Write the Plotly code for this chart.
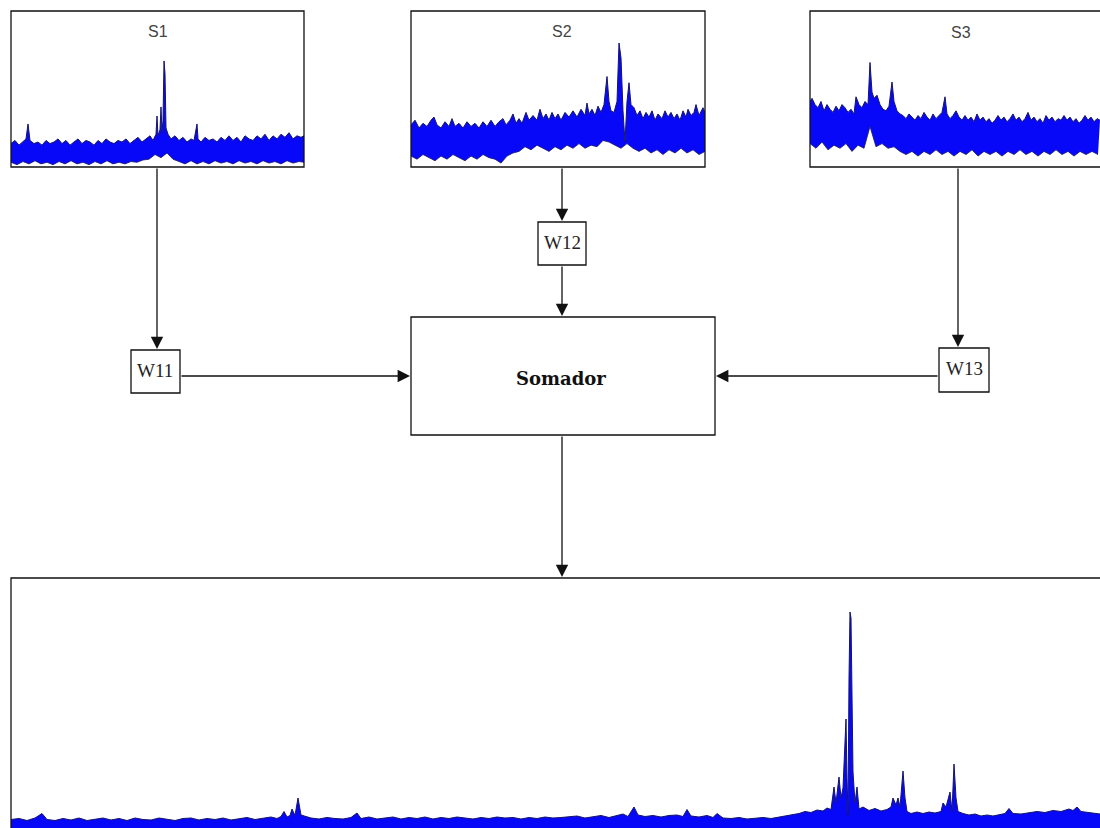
import plotly.graph_objects as go

W, H = 1100, 828

# ---------------- data ----------------
# S1: sample position, upper envelope, lower envelope
s1_x = [0, 4, 8, 12, 15, 17, 19, 23, 27, 31, 35, 39, 43, 47, 51, 55, 59, 63, 67, 71, 75, 79, 83, 87, 91, 95, 99,
        103, 107, 111, 115, 119, 123, 127, 131, 135, 139, 142, 145, 146, 147, 149, 150, 151, 152, 153, 154, 155,
        157, 160, 164, 168, 172, 176, 180, 183, 186, 187, 190, 194, 198, 202, 206, 210, 214, 218, 222, 226, 230,
        234, 238, 242, 246, 250, 254, 258, 262, 266, 270, 274, 278, 282, 286, 290, 293]
s1_upper = [0.15, 0.17, 0.14, 0.16, 0.18, 0.276, 0.17, 0.15, 0.16, 0.14, 0.17, 0.15, 0.16, 0.18, 0.15, 0.17, 0.14,
            0.16, 0.18, 0.15, 0.17, 0.16, 0.14, 0.17, 0.15, 0.18, 0.16, 0.15, 0.17, 0.16, 0.18, 0.15, 0.17, 0.19,
            0.16, 0.18, 0.2, 0.17, 0.21, 0.327, 0.2, 0.24, 0.385, 0.22, 0.3, 0.68, 0.6, 0.25, 0.21, 0.18, 0.2,
            0.17, 0.19, 0.16, 0.18, 0.17, 0.276, 0.18, 0.16, 0.19, 0.17, 0.18, 0.16, 0.19, 0.17, 0.2, 0.17, 0.19,
            0.16, 0.2, 0.18, 0.17, 0.2, 0.18, 0.21, 0.17, 0.2, 0.18, 0.21, 0.19, 0.22, 0.18, 0.2, 0.19, 0.2]
s1_lx = [0, 6, 12, 18, 24, 30, 36, 42, 48, 54, 60, 66, 72, 78, 84, 90, 96, 102, 108, 114, 120, 126, 132, 138, 144,
         150, 156, 162, 168, 174, 180, 186, 192, 198, 204, 210, 216, 222, 228, 234, 240, 246, 252, 258, 264, 270,
         276, 282, 288, 293]
s1_lower = [0.03, 0.015, 0.035, 0.02, 0.04, 0.02, 0.03, 0.015, 0.035, 0.02, 0.04, 0.02, 0.03, 0.015, 0.035, 0.02,
            0.04, 0.02, 0.03, 0.02, 0.035, 0.03, 0.045, 0.05, 0.08, 0.06, 0.09, 0.05, 0.035, 0.02, 0.04, 0.02,
            0.035, 0.02, 0.04, 0.025, 0.035, 0.02, 0.04, 0.025, 0.035, 0.02, 0.04, 0.025, 0.035, 0.02, 0.04,
            0.025, 0.035, 0.03]

# S2
s2_x = [0, 4, 8, 12, 16, 20, 23, 26, 30, 34, 38, 41, 44, 48, 52, 56, 60, 64, 68, 72, 76, 80, 84, 88, 92, 95, 99,
        102, 105, 108, 111, 115, 118, 122, 126, 129, 132, 135, 138, 141, 144, 147, 150, 154, 158, 162, 166, 170,
        174, 176, 178, 181, 184, 187, 190, 193, 196, 198, 200, 203, 206, 208, 210, 212, 214, 216, 218, 220, 223,
        226, 229, 232, 235, 238, 241, 244, 247, 251, 254, 257, 260, 263, 266, 269, 272, 275, 277, 280, 283, 285,
        288, 291, 292, 294]
s2_upper = [0.27, 0.3, 0.25, 0.28, 0.26, 0.3, 0.32, 0.27, 0.25, 0.29, 0.26, 0.31, 0.26, 0.28, 0.25, 0.29, 0.26,
            0.28, 0.25, 0.29, 0.26, 0.3, 0.26, 0.29, 0.31, 0.27, 0.3, 0.34, 0.28, 0.31, 0.28, 0.35, 0.3, 0.33,
            0.3, 0.37, 0.31, 0.34, 0.3, 0.35, 0.31, 0.34, 0.3, 0.35, 0.32, 0.36, 0.32, 0.37, 0.33, 0.41, 0.34,
            0.37, 0.33, 0.39, 0.35, 0.4, 0.58, 0.42, 0.36, 0.35, 0.42, 0.795, 0.7, 0.36, 0.16, 0.42, 0.54, 0.4,
            0.38, 0.33, 0.36, 0.31, 0.35, 0.32, 0.36, 0.3, 0.34, 0.31, 0.36, 0.32, 0.35, 0.31, 0.34, 0.3, 0.36,
            0.32, 0.37, 0.33, 0.35, 0.4, 0.33, 0.37, 0.38, 0.35]
s2_lx = [0, 6, 12, 18, 24, 30, 36, 42, 48, 54, 60, 66, 72, 78, 84, 90, 96, 102, 108, 114, 120, 126, 132, 138, 144,
         150, 156, 162, 168, 174, 180, 186, 192, 198, 204, 210, 216, 222, 228, 234, 240, 246, 252, 258, 264, 270,
         276, 282, 288, 294]
s2_lower = [0.07, 0.05, 0.08, 0.06, 0.04, 0.07, 0.05, 0.08, 0.06, 0.04, 0.07, 0.05, 0.08, 0.06, 0.05, 0.025,
            0.07, 0.09, 0.1, 0.13, 0.11, 0.14, 0.12, 0.1, 0.13, 0.11, 0.14, 0.12, 0.15, 0.12, 0.14, 0.13, 0.17,
            0.16, 0.14, 0.12, 0.15, 0.12, 0.1, 0.12, 0.09, 0.11, 0.08, 0.11, 0.09, 0.12, 0.09, 0.11, 0.08, 0.1]

# S3
s3_x = [0, 2, 5, 8, 11, 14, 17, 20, 23, 26, 29, 32, 35, 38, 41, 44, 46, 49, 52, 55, 58, 60, 62, 64, 67, 70, 73,
        76, 79, 82, 84, 87, 90, 93, 96, 99, 102, 105, 108, 111, 114, 117, 120, 123, 126, 129, 132, 135, 137, 140,
        143, 146, 149, 152, 155, 158, 161, 164, 167, 170, 173, 176, 179, 182, 185, 188, 191, 194, 197, 200, 203,
        206, 209, 212, 215, 218, 221, 224, 227, 230, 233, 236, 239, 242, 245, 248, 251, 254, 257, 260, 263, 266,
        269, 272, 275, 278, 281, 284, 287, 290]
s3_upper = [0.42, 0.44, 0.4, 0.38, 0.42, 0.36, 0.4, 0.37, 0.35, 0.39, 0.36, 0.4, 0.38, 0.35, 0.37, 0.34, 0.45,
            0.4, 0.38, 0.42, 0.4, 0.67, 0.48, 0.44, 0.46, 0.4, 0.37, 0.36, 0.39, 0.545, 0.42, 0.36, 0.34, 0.33,
            0.31, 0.34, 0.32, 0.3, 0.33, 0.31, 0.35, 0.32, 0.3, 0.34, 0.31, 0.33, 0.35, 0.45, 0.34, 0.31, 0.33,
            0.36, 0.32, 0.3, 0.33, 0.3, 0.32, 0.29, 0.34, 0.3, 0.32, 0.29, 0.31, 0.28, 0.3, 0.33, 0.3, 0.32, 0.29,
            0.31, 0.34, 0.3, 0.32, 0.29, 0.31, 0.35, 0.3, 0.32, 0.29, 0.31, 0.28, 0.33, 0.3, 0.32, 0.29, 0.31,
            0.3, 0.33, 0.3, 0.32, 0.29, 0.31, 0.28, 0.3, 0.33, 0.3, 0.32, 0.29, 0.31, 0.3]
s3_lx = [0, 6, 12, 18, 24, 30, 36, 42, 48, 54, 60, 66, 72, 78, 84, 90, 96, 102, 108, 114, 120, 126, 132, 138, 144,
         150, 156, 162, 168, 174, 180, 186, 192, 198, 204, 210, 216, 222, 228, 234, 240, 246, 252, 258, 264, 270,
         276, 282, 288]
s3_lower = [0.15, 0.12, 0.16, 0.11, 0.14, 0.12, 0.15, 0.1, 0.14, 0.12, 0.26, 0.13, 0.15, 0.12, 0.13, 0.1, 0.08,
            0.1, 0.07, 0.1, 0.08, 0.11, 0.08, 0.1, 0.07, 0.1, 0.08, 0.11, 0.07, 0.1, 0.08, 0.1, 0.07, 0.1, 0.08,
            0.11, 0.08, 0.1, 0.07, 0.1, 0.08, 0.11, 0.08, 0.1, 0.07, 0.1, 0.08, 0.1, 0.08]

# Output (sum) signal
out_x = [0, 8, 16, 24, 31, 36, 44, 52, 60, 68, 76, 84, 92, 100, 108, 116, 124, 132, 140, 148, 156, 164, 172, 180,
         188, 196, 204, 212, 220, 228, 236, 244, 252, 260, 266, 270, 273, 276, 279, 281, 284, 287, 290, 294, 300,
         308, 316, 324, 332, 340, 346, 350, 358, 366, 374, 382, 390, 398, 406, 414, 422, 430, 438, 446, 454, 462,
         470, 478, 486, 494, 502, 510, 518, 526, 534, 542, 550, 558, 566, 574, 582, 590, 598, 606, 612, 617, 623,
         627, 634, 642, 650, 658, 666, 672, 676, 680, 688, 696, 702, 706, 712, 720, 728, 736, 744, 752, 760, 768,
         776, 782, 788, 794, 800, 806, 812, 816, 820, 823, 825, 828, 830, 832, 834, 835, 836, 837, 838, 839, 840,
         842, 844, 846, 848, 852, 858, 864, 870, 876, 880, 882, 885, 887, 889, 892, 894, 896, 900, 906, 912, 918,
         924, 930, 932, 935, 939, 941, 943, 945, 947, 952, 958, 964, 970, 976, 982, 988, 994, 998, 1002, 1010,
         1018, 1026, 1034, 1042, 1050, 1058, 1062, 1066, 1070, 1078, 1084, 1089]
out_y = [0.034, 0.038, 0.03, 0.04, 0.058, 0.034, 0.03, 0.038, 0.032, 0.04, 0.03, 0.036, 0.04, 0.032, 0.038,
         0.03, 0.04, 0.034, 0.032, 0.04, 0.036, 0.03, 0.038, 0.04, 0.032, 0.038, 0.034, 0.04, 0.032, 0.038,
         0.042, 0.034, 0.04, 0.044, 0.038, 0.046, 0.066, 0.044, 0.05, 0.076, 0.05, 0.12, 0.052, 0.046, 0.04, 0.036,
         0.042, 0.038, 0.036, 0.042, 0.06, 0.038, 0.044, 0.036, 0.04, 0.044, 0.036, 0.042, 0.038, 0.044, 0.036,
         0.042, 0.038, 0.044, 0.04, 0.036, 0.042, 0.038, 0.044, 0.04, 0.042, 0.036, 0.042, 0.038, 0.044, 0.04,
         0.042, 0.044, 0.048, 0.04, 0.046, 0.05, 0.042, 0.05, 0.056, 0.046, 0.084, 0.052, 0.046, 0.05, 0.044,
         0.05, 0.052, 0.046, 0.074, 0.048, 0.044, 0.05, 0.042, 0.058, 0.04, 0.038, 0.042, 0.036, 0.04, 0.042,
         0.038, 0.044, 0.05, 0.056, 0.058, 0.066, 0.062, 0.072, 0.068, 0.08, 0.074, 0.164, 0.1, 0.204, 0.12, 0.16,
         0.324, 0.436, 0.2, 0.05, 0.6, 0.864, 0.84, 0.224, 0.1, 0.164, 0.076, 0.084, 0.07, 0.078, 0.068, 0.074,
         0.084, 0.12, 0.092, 0.12, 0.084, 0.228, 0.12, 0.066, 0.058, 0.064, 0.058, 0.064, 0.06, 0.066, 0.1, 0.084,
         0.144, 0.066, 0.256, 0.12, 0.066, 0.058, 0.052, 0.056, 0.048, 0.052, 0.048, 0.054, 0.058, 0.078, 0.058,
         0.056, 0.062, 0.066, 0.062, 0.07, 0.066, 0.076, 0.07, 0.084, 0.066, 0.062, 0.058, 0.056]

# diagram labels
panel_titles = ["S1", "S2", "S3"]
weight_labels = ["W11", "W12", "W13"]
sum_label = "Somador"

# ---------------- layout helpers ----------------
def X(p):
    return p / W


def Y(p):
    return 1 - p / H


BAND = "#0808f8"
EDGE = "#14146e"

fig = go.Figure()


def add_band(xa, ya, lx, lo, ux, up):
    fig.add_trace(go.Scatter(x=lx, y=lo, mode="lines", line=dict(color=EDGE, width=0.8),
                             xaxis=xa, yaxis=ya, hoverinfo="skip", showlegend=False))
    fig.add_trace(go.Scatter(x=ux, y=up, mode="lines", line=dict(color=EDGE, width=1),
                             fill="tonexty", fillcolor=BAND,
                             xaxis=xa, yaxis=ya, hoverinfo="skip", showlegend=False))


add_band("x", "y", s1_lx, s1_lower, s1_x, s1_upper)
add_band("x2", "y2", s2_lx, s2_lower, s2_x, s2_upper)
add_band("x3", "y3", s3_lx, s3_lower, s3_x, s3_upper)
fig.add_trace(go.Scatter(x=out_x, y=out_y, mode="lines", line=dict(color=EDGE, width=1),
                         fill="tozeroy", fillcolor=BAND, xaxis="x4", yaxis="y4",
                         hoverinfo="skip", showlegend=False))

ax_common = dict(showgrid=False, zeroline=False, showticklabels=False, ticks="",
                 showline=False, fixedrange=True)

top_dom = [Y(167), Y(11)]
fig.update_layout(
    width=W, height=H,
    margin=dict(l=0, r=0, t=0, b=0),
    paper_bgcolor="white", plot_bgcolor="white",
    xaxis=dict(domain=[X(11), X(304)], range=[0, 293], anchor="y", **ax_common),
    yaxis=dict(domain=top_dom, range=[0, 1], anchor="x", **ax_common),
    xaxis2=dict(domain=[X(411), X(705)], range=[0, 294], anchor="y2", **ax_common),
    yaxis2=dict(domain=top_dom, range=[0, 1], anchor="x2", **ax_common),
    xaxis3=dict(domain=[X(810), 1.0], range=[0, 290], anchor="y3", **ax_common),
    yaxis3=dict(domain=top_dom, range=[0, 1], anchor="x3", **ax_common),
    xaxis4=dict(domain=[X(11), 1.0], range=[0, 1089], anchor="y4", **ax_common),
    yaxis4=dict(domain=[0, Y(578)], range=[0, 1], anchor="x4", **ax_common),
)

# boxes
boxes = [
    (11, 11, 304, 167),     # S1
    (411, 11, 705, 167),    # S2
    (810, 11, 1112, 167),   # S3
    (538, 222, 586, 265),   # W12
    (131, 350, 180, 393),   # W11
    (939, 348, 989, 392),   # W13
    (411, 317, 715, 435),   # Somador
    (11, 578, 1112, 840),   # output
]
for x0, y0, x1, y1 in boxes:
    fig.add_shape(type="rect", xref="paper", yref="paper",
                  x0=X(x0), x1=X(x1), y0=Y(y1), y1=Y(y0),
                  line=dict(color="#111111", width=1.3), fillcolor="rgba(0,0,0,0)", layer="above")

# arrows: (tip_x, tip_y, tail_x, tail_y)
arrows = [
    (157, 349, 157, 167),
    (562, 221, 562, 167),
    (562, 316, 562, 265),
    (958, 347, 958, 167),
    (410, 376, 180, 376),
    (716, 376, 939, 376),
    (562, 577, 562, 435),
]
for tx, ty, sx, sy in arrows:
    fig.add_annotation(x=X(tx), y=Y(ty), xref="paper", yref="paper", text="",
                       showarrow=True, ax=sx - tx, ay=sy - ty, axref="pixel", ayref="pixel",
                       arrowhead=2, arrowsize=1.9, arrowwidth=1.3, arrowcolor="#111111",
                       standoff=0, startstandoff=0)

# texts
for (cx, cy), t in zip([(158, 32), (562, 32), (961, 33)], panel_titles):
    fig.add_annotation(x=X(cx), y=Y(cy), xref="paper", yref="paper", text=t, showarrow=False,
                       xanchor="center", yanchor="middle",
                       font=dict(family="Liberation Sans, Arial", size=16, color="#444444"))
for (cx, cy), t in zip([(155, 370), (562, 243), (964, 368)], weight_labels):
    fig.add_annotation(x=X(cx), y=Y(cy), xref="paper", yref="paper", text=t, showarrow=False,
                       xanchor="center", yanchor="middle",
                       font=dict(family="Liberation Serif, Times New Roman", size=19, color="#222222"))
fig.add_annotation(x=X(561), y=Y(378), xref="paper", yref="paper", text="<b>" + sum_label + "</b>",
                   showarrow=False, xanchor="center", yanchor="middle",
                   font=dict(family="DejaVu Serif", size=18, color="#111111"))

fig.write_html("out.html")
